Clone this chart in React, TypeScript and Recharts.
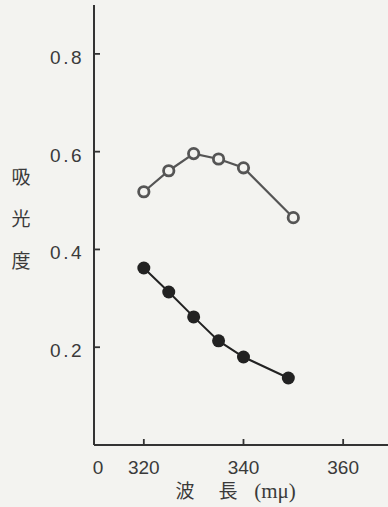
import React from "react";
import { LineChart, Line, XAxis, YAxis, Label } from "recharts";

const openWavelengths = [320, 325, 330, 335, 340, 350];
const openAbsorbance = [0.518, 0.561, 0.596, 0.585, 0.567, 0.465];
const filledWavelengths = [320, 325, 330, 335, 340, 349];
const filledAbsorbance = [0.362, 0.313, 0.262, 0.213, 0.18, 0.137];
const xTicks = [310, 320, 340, 360];
const xTickLabels: Record<number, string> = { 310: "0", 320: "320", 340: "340", 360: "360" };
const yTicks = [0.2, 0.4, 0.6, 0.8];
const yLabelChars = ["吸", "光", "度"];
const xLabelParts = ["波", "長", "(mμ)"];

const openData = openWavelengths.map((x, i) => ({ x, y: openAbsorbance[i] }));
const filledData = filledWavelengths.map((x, i) => ({ x, y: filledAbsorbance[i] }));

const BG = "#f3f3f0";
const INK = "#333";
const NUM_FONT = "'Liberation Sans', Arial, sans-serif";
const CJK_FONT = "'Noto Sans CJK JP', sans-serif";

const XTick = (props: any) => {
  const { x, y, payload } = props;
  const v = payload.value;
  return (
    <g>
      {v !== 310 && <line x1={x} x2={x} y1={y} y2={y - 6} stroke={INK} strokeWidth={1.8} />}
      <text x={v === 310 ? x + 4 : x} y={y + 29} textAnchor="middle" fontSize={19} fill="#3a3a3a" fontFamily={NUM_FONT}>
        {xTickLabels[v]}
      </text>
    </g>
  );
};

const YTick = (props: any) => {
  const { x, y, payload } = props;
  return (
    <g>
      <line x1={x} x2={x + 6} y1={y} y2={y} stroke={INK} strokeWidth={1.8} />
      <text x={x - 10} y={y + 10} textAnchor="end" fontSize={19} letterSpacing={2.5} fill="#3a3a3a" fontFamily={NUM_FONT}>
        {payload.value.toFixed(1)}
      </text>
    </g>
  );
};

const YLabelContent = () => (
  <g>
    {yLabelChars.map((c, i) => (
      <text key={c} x={21} y={184 + i * 42} textAnchor="middle" fontSize={19} fill="#3a3a3a" fontFamily={CJK_FONT}>
        {c}
      </text>
    ))}
  </g>
);

const xLabelPos = [185, 228, 275];
const XLabelContent = () => (
  <g>
    {xLabelParts.map((c, i) => (
      <text key={c} x={xLabelPos[i]} y={498} textAnchor="middle" fontSize={i === 2 ? 21 : 19} fill="#3a3a3a" fontFamily={i === 2 ? "'Liberation Serif', serif" : CJK_FONT}>
        {c}
      </text>
    ))}
  </g>
);

const OpenDot = (props: any) => {
  const { cx, cy } = props;
  return <circle cx={cx} cy={cy} r={5.2} fill={BG} stroke="#555" strokeWidth={2.8} />;
};

const FilledDot = (props: any) => {
  const { cx, cy } = props;
  return <circle cx={cx} cy={cy} r={6.5} fill="#222" stroke="none" />;
};

export default function App() {
  return (
    <div style={{ position: "fixed", left: 0, top: 0, width: 388, height: 507, background: BG }}>
      <LineChart width={388} height={507} margin={{ top: 5, right: 0, bottom: 0, left: 0 }}>
        <XAxis
          type="number"
          dataKey="x"
          domain={[310, 369]}
          ticks={xTicks}
          allowDataOverflow
          height={62}
          tickSize={0}
          tickMargin={0}
          tickLine={false}
          tick={<XTick />}
          axisLine={{ stroke: INK, strokeWidth: 2 }}
        >
          <Label content={<XLabelContent />} />
        </XAxis>
        <YAxis
          type="number"
          dataKey="y"
          domain={[0, 0.9]}
          ticks={yTicks}
          allowDataOverflow
          width={94}
          tickSize={0}
          tickMargin={0}
          tickLine={false}
          tick={<YTick />}
          axisLine={{ stroke: INK, strokeWidth: 2 }}
        >
          <Label content={<YLabelContent />} />
        </YAxis>
        <Line
          data={openData}
          dataKey="y"
          stroke="#555"
          strokeWidth={2.2}
          dot={<OpenDot />}
          activeDot={false}
          isAnimationActive={false}
          type="linear"
        />
        <Line
          data={filledData}
          dataKey="y"
          stroke="#222"
          strokeWidth={2}
          dot={<FilledDot />}
          activeDot={false}
          isAnimationActive={false}
          type="linear"
        />
      </LineChart>
    </div>
  );
}
